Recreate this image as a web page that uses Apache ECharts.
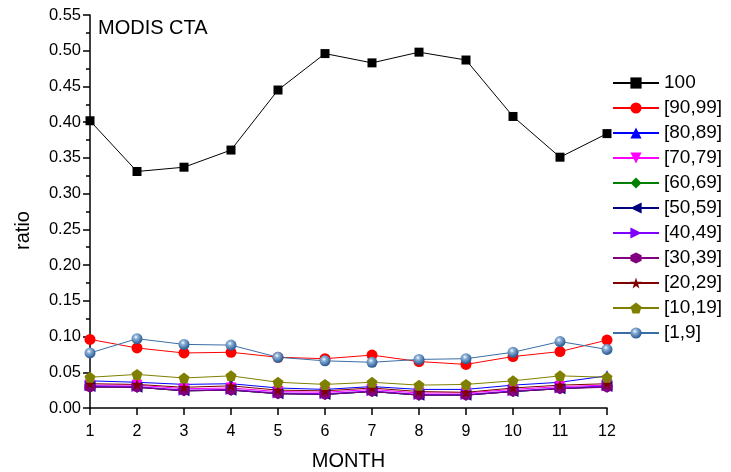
<!DOCTYPE html>
<html>
<head>
<meta charset="utf-8">
<script src="https://cdn.jsdelivr.net/npm/echarts@6/dist/echarts.min.js"></script>
<style>
  html, body { margin: 0; padding: 0; background: #fff; }
  #chart { width: 731px; height: 472px; }
</style>
</head>
<body>
<div id="chart"></div>
<script>
const months = [1, 2, 3, 4, 5, 6, 7, 8, 9, 10, 11, 12];
const names = ['100', '[90,99]', '[80,89]', '[70,79]', '[60,69]', '[50,59]', '[40,49]', '[30,39]', '[20,29]', '[10,19]', '[1,9]'];

const r100   = [0.402, 0.331, 0.337, 0.361, 0.445, 0.496, 0.483, 0.498, 0.487, 0.408, 0.351, 0.384];
const r90_99 = [0.096, 0.084, 0.077, 0.078, 0.071, 0.069, 0.074, 0.065, 0.061, 0.072, 0.079, 0.095];
const r80_89 = [0.038, 0.036, 0.033, 0.034, 0.028, 0.026, 0.030, 0.026, 0.026, 0.032, 0.036, 0.045];
const r70_79 = [0.032, 0.032, 0.027, 0.028, 0.023, 0.022, 0.026, 0.021, 0.021, 0.026, 0.030, 0.032];
const r60_69 = [0.029, 0.029, 0.024, 0.025, 0.020, 0.019, 0.023, 0.018, 0.018, 0.023, 0.027, 0.030];
const r50_59 = [0.030, 0.029, 0.024, 0.025, 0.020, 0.019, 0.023, 0.018, 0.018, 0.023, 0.027, 0.030];
const r40_49 = [0.031, 0.030, 0.025, 0.026, 0.021, 0.020, 0.024, 0.019, 0.019, 0.024, 0.028, 0.031];
const r30_39 = [0.029, 0.029, 0.024, 0.025, 0.020, 0.019, 0.023, 0.018, 0.018, 0.023, 0.027, 0.029];
const r20_29 = [0.034, 0.033, 0.029, 0.031, 0.025, 0.024, 0.028, 0.023, 0.022, 0.028, 0.032, 0.034];
const r10_19 = [0.043, 0.047, 0.042, 0.045, 0.036, 0.033, 0.036, 0.032, 0.033, 0.038, 0.045, 0.043];
const r1_9   = [0.077, 0.097, 0.089, 0.088, 0.071, 0.066, 0.064, 0.068, 0.069, 0.078, 0.093, 0.082];

const allData = [r100, r90_99, r80_89, r70_79, r60_69, r50_59, r40_49, r30_39, r20_29, r10_19, r1_9];
const colors = ['#000000', '#ff0000', '#0000ff', '#ff00ff', '#008000', '#000080', '#8000ff', '#800080', '#800000', '#808000', '#3a6ea5'];

// 每个系列的标记形状
const symbols = [
  'rect',
  'circle',
  'triangle',
  'path://M0,0 L10,0 L5,9 Z',
  'diamond',
  'path://M0,5 L9,0 L9,10 Z',
  'path://M0,0 L9,5 L0,10 Z',
  'path://M5,0 L9.33,2.5 L9.33,7.5 L5,10 L0.67,7.5 L0.67,2.5 Z',
  'path://M5,0 L6.18,3.62 L10,3.62 L6.91,5.86 L8.09,9.51 L5,7.24 L1.91,9.51 L3.09,5.86 L0,3.62 L3.82,3.62 Z',
  'path://M5,0 L10,3.8 L8.1,10 L1.9,10 L0,3.8 Z',
  'circle'
];
const sizes = [9, 11, 11, 11, 11, 11, 11, 11, 11, 11, 11];

const myChart = echarts.init(document.getElementById('chart'));

const series = names.map(function (name, i) {
  let itemColor = colors[i];
  if (name === '[1,9]') {
    // 球形高光效果
    itemColor = new echarts.graphic.RadialGradient(0.4, 0.35, 0.6, [
      { offset: 0, color: '#ffffff' },
      { offset: 0.3, color: '#8fb3d9' },
      { offset: 1, color: '#2d5f96' }
    ]);
  }
  return {
    name: name,
    type: 'line',
    symbol: symbols[i],
    symbolSize: sizes[i],
    showAllSymbol: true,
    lineStyle: { color: colors[i], width: 1 },
    itemStyle: { color: itemColor, borderWidth: 0 },
    data: months.map(function (m, k) { return [m, allData[i][k]]; })
  };
});

const font = 'Liberation Sans';

const option = {
  animation: false,
  backgroundColor: '#fff',
  color: colors,
  grid: {
    left: 90,
    right: 124,
    top: 15,
    bottom: 64,
    // 不要自动收缩绘图区
    outerBoundsMode: 'none'
  },
  title: {
    text: 'MODIS CTA',
    left: 93,
    top: 13,
    textStyle: {
      fontFamily: font,
      fontWeight: 'normal',
      fontSize: 20,
      color: '#000'
    }
  },
  legend: {
    orient: 'vertical',
    left: 607,
    top: 68,
    itemWidth: 46,
    itemHeight: 14,
    itemGap: 5,
    data: names,
    textStyle: {
      fontFamily: font,
      fontSize: 19,
      color: '#000',
      lineHeight: 20
    }
  },
  xAxis: {
    type: 'value',
    min: 1,
    max: 12,
    interval: 1,
    name: 'MONTH',
    nameLocation: 'middle',
    nameGap: 43,
    nameTextStyle: {
      fontFamily: font,
      fontSize: 20,
      color: '#000'
    },
    axisLine: { lineStyle: { color: '#000', width: 1.5 } },
    axisTick: { inside: false, length: 7, lineStyle: { color: '#000', width: 1.5 } },
    axisLabel: {
      fontFamily: font,
      fontSize: 16,
      color: '#000',
      margin: 16
    },
    splitLine: { show: false }
  },
  yAxis: {
    type: 'value',
    min: 0,
    max: 0.55,
    interval: 0.05,
    name: 'ratio',
    nameLocation: 'middle',
    nameGap: 57,
    nameTextStyle: {
      fontFamily: font,
      fontSize: 20,
      color: '#000',
      padding: [0, 38, 0, 0]
    },
    axisLine: { show: true, lineStyle: { color: '#000', width: 1.5 } },
    axisTick: { show: true, inside: false, length: 7, lineStyle: { color: '#000', width: 1.5 } },
    minorTick: { show: true, splitNumber: 2, length: 4, lineStyle: { color: '#000', width: 1.5 } },
    axisLabel: {
      fontFamily: font,
      fontSize: 16.5,
      color: '#000',
      margin: 9,
      formatter: function (v) { return v.toFixed(2); }
    },
    splitLine: { show: false }
  },
  series: series
};

myChart.setOption(option);
</script>
</body>
</html>
